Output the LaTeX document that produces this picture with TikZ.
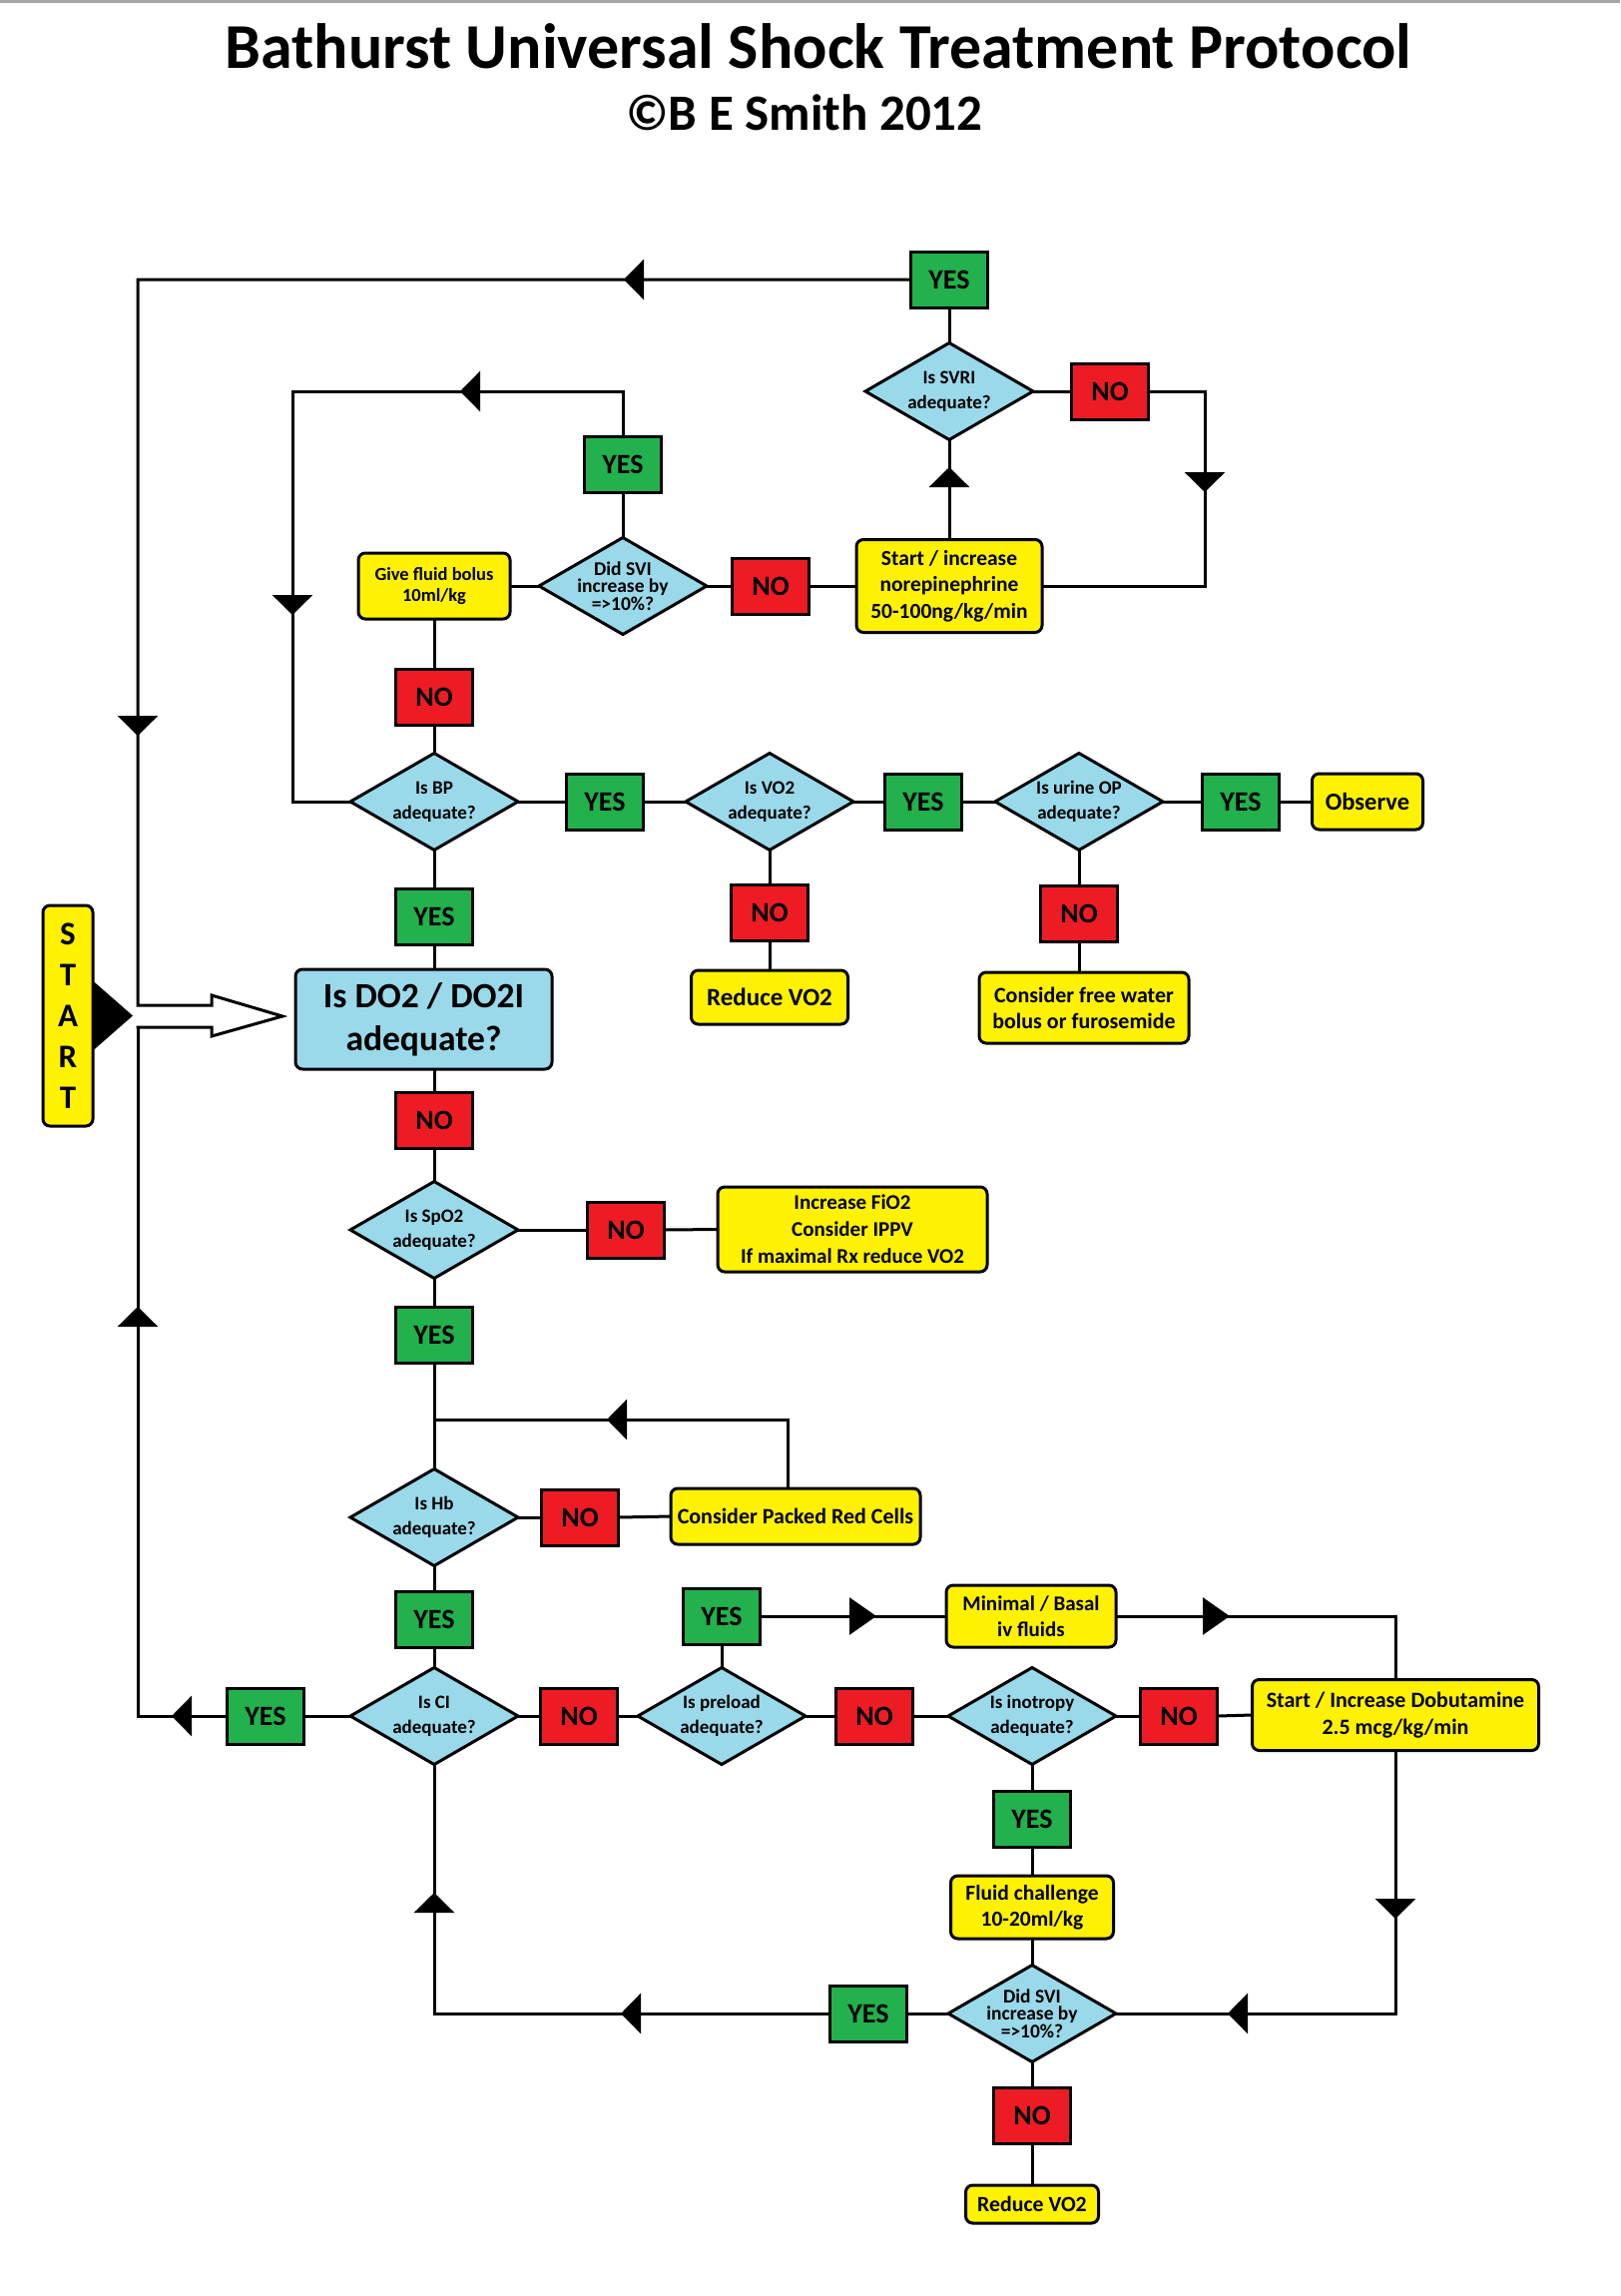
\documentclass[tikz,border=0pt]{standalone}
\usepackage{fontspec}
\setmainfont{Carlito}
\usetikzlibrary{shapes.geometric,arrows.meta,decorations.markings,calc}
\newcommand{\myfs}[2]{\fontsize{#1}{#2}\selectfont}
\definecolor{cgreen}{RGB}{34,177,76}
\definecolor{cred}{RGB}{237,28,36}
\definecolor{cyellow}{RGB}{255,242,0}
\definecolor{cblue}{RGB}{153,217,234}
\pgfdeclarelayer{bg}
\pgfsetlayers{bg,main}
\begin{document}
\begin{tikzpicture}[x=1pt,y=-1pt,
  base/.style={draw=black, line width=3pt, text=black, outer sep=0pt, inner sep=0pt},
  yesbox/.style={base, fill=cgreen, minimum width=77pt, minimum height=56pt, font=\bfseries\myfs{28}{34}},
  nobox/.style={base, fill=cred, minimum width=77pt, minimum height=56pt, font=\bfseries\myfs{28}{34}},
  dia/.style={base, diamond, shape aspect=1.73, fill=cblue, minimum width=168pt, minimum height=97pt, inner sep=-5pt, align=center, font=\bfseries\myfs{19}{25}},
  svi/.style={dia, font=\bfseries\myfs{19.5}{17.5}},
  act/.style={base, fill=cyellow, rounded corners=7pt, align=center},
  conn/.style={line width=3pt, draw=black},
  tipS/.style={postaction={decorate,decoration={markings,mark=at position #1 with {\arrow{Triangle[length=20pt,width=40pt]}}}}},
  tipL/.style={postaction={decorate,decoration={markings,mark=at position #1 with {\arrow{Triangle[length=27pt,width=37pt]}}}}}
]
\useasboundingbox (0,0) rectangle (1623,2300);

% title
\node[font=\bfseries\myfs{64}{72}, anchor=base, inner sep=0pt] (title) at (820,68) {Bathurst Universal Shock Treatment Protocol};
\node[font=\bfseries\myfs{51}{58}, anchor=base, inner sep=0pt] (sub) at (806,130) {©B E Smith 2012};

% top part
\node[yesbox] (ySVRI) at (951,280) {YES};
\node[dia] (dSVRI) at (951,392) {Is SVRI\\adequate?};
\node[nobox] (nSVRI) at (1112,392) {NO};
\node[act, minimum width=186pt, minimum height=93pt, font=\bfseries\myfs{21.5}{26.7}] (nore) at (951,587) {Start / increase\\norepinephrine\\50-100ng/kg/min};
\node[nobox] (nSVI1) at (772,587) {NO};
\node[svi] (dSVI1) at (624,587) {Did SVI\\increase by\\=>10\%?};
\node[yesbox] (ySVI1) at (624,465) {YES};
\node[act, minimum width=152pt, minimum height=66pt, font=\bfseries\myfs{18.5}{21}] (give) at (435,587) {Give fluid bolus\\10ml/kg};
\node[nobox] (nBP) at (435,698) {NO};

% BP row
\node[dia] (dBP) at (435,803) {Is BP\\adequate?};
\node[yesbox] (yBP) at (606,803) {YES};
\node[dia] (dVO2) at (771,803) {Is VO2\\adequate?};
\node[yesbox] (yVO2) at (925,803) {YES};
\node[dia] (dUR) at (1081,803) {Is urine OP\\adequate?};
\node[yesbox] (yUR) at (1243,803) {YES};
\node[act, minimum width=111pt, minimum height=56pt, font=\bfseries\myfs{24.5}{30}] (obs) at (1370,803) {Observe};
\node[nobox] (nVO2) at (771,914) {NO};
\node[act, minimum width=157pt, minimum height=54pt, font=\bfseries\myfs{25}{30}] (red1) at (771,999) {Reduce VO2};
\node[nobox] (nUR) at (1081,915) {NO};
\node[act, minimum width=210pt, minimum height=71pt, font=\bfseries\myfs{22}{26}] (water) at (1086,1009.5) {Consider free water\\bolus or furosemide};

% DO2
\node[yesbox] (yDO2) at (435,918) {YES};
\node[base, fill=cblue, rounded corners=7pt, align=center, minimum width=257pt, minimum height=100pt, font=\bfseries\myfs{35.5}{43}] (do2) at (424.5,1021) {Is DO2 / DO2I\\adequate?};
\node[act, minimum width=50pt, minimum height=221pt, font=\bfseries\myfs{33}{41}] (start) at (68,1017.5) {S\\T\\A\\R\\T};
\node[nobox] (nDO2) at (435,1122) {NO};

% SpO2 / Hb
\node[dia] (dSPO2) at (435,1232) {Is SpO2\\adequate?};
\node[nobox] (nSPO2) at (627,1232) {NO};
\node[act, minimum width=270pt, minimum height=85pt, font=\bfseries\myfs{21}{27}] (fio2) at (854,1231.5) {Increase FiO2\\Consider IPPV\\If maximal Rx reduce VO2};
\node[yesbox] (ySPO2) at (435,1337) {YES};
\node[dia] (dHB) at (435,1520) {Is Hb\\adequate?};
\node[nobox] (nHB) at (581,1520) {NO};
\node[act, minimum width=250pt, minimum height=56pt, font=\bfseries\myfs{22}{26}] (packed) at (797,1519) {Consider Packed Red Cells};
\node[yesbox] (yHB) at (435,1622) {YES};

% CI row
\node[dia] (dCI) at (435,1719) {Is CI\\adequate?};
\node[yesbox] (yCI) at (266,1719) {YES};
\node[nobox] (nCI) at (580,1719) {NO};
\node[dia] (dPRE) at (723,1719) {Is preload\\adequate?};
\node[yesbox] (yPRE) at (723,1619) {YES};
\node[act, minimum width=170pt, minimum height=62pt, font=\bfseries\myfs{21}{26}] (minimal) at (1033,1619) {Minimal / Basal\\iv fluids};
\node[nobox] (nPRE) at (876,1719) {NO};
\node[dia] (dINO) at (1034,1719) {Is inotropy\\adequate?};
\node[nobox] (nINO) at (1181,1719) {NO};
\node[act, minimum width=287pt, minimum height=71pt, font=\bfseries\myfs{22}{27}] (dobu) at (1398,1718) {Start / Increase Dobutamine\\2.5 mcg/kg/min};
\node[yesbox] (yINO) at (1034,1822) {YES};
\node[act, minimum width=163pt, minimum height=63pt, font=\bfseries\myfs{21.5}{26}] (fluid) at (1034,1910.5) {Fluid challenge\\10-20ml/kg};
\node[svi] (dSVI2) at (1034,2017) {Did SVI\\increase by\\=>10\%?};
\node[yesbox] (ySVI2) at (870,2017) {YES};
\node[nobox] (nSVI2) at (1034,2119) {NO};
\node[act, minimum width=133pt, minimum height=38pt, font=\bfseries\myfs{21.8}{26}] (red2) at (1034,2208) {Reduce VO2};

% START pointer
\fill[black] ($(start.east)+(0,-35)$) -- ($(start.east)+(40,0)$) -- ($(start.east)+(0,35)$) -- cycle;

\begin{pgfonlayer}{bg}
\fill[white] (0,0) rectangle (1623,2300);
\fill[gray!70] (0,0) rectangle (1623,3);
% loops with arrowheads
\draw[conn, line cap=rect, tipS=287.5pt, tipS=1231.5pt] (ySVRI.west) -- (138,280) -- (138,1007) -- (212,1007) -- (212,997) -- (283,1018) -- (212,1038) -- (212,1029) -- (138,1029);
\draw[conn, line cap=rect, tipS=55.5pt, tipS=499.5pt] (yCI.west) -- (138,1719) -- (138,1029);
\draw[conn, tipS=208pt, tipS=600pt] (ySVI1.north) -- (624,392) -- (293,392) -- (293,803) -- (dBP.west);
\draw[conn, tipS=157.5pt] (nSVRI.east) -- (1207,392) -- (1207,587) -- (nore.east);
\draw[conn, tipS=72.5pt] (nore.north) -- (dSVRI.south);
\coordinate (pk) at (789,1491);
\draw[conn, tipS=250pt] (pk) -- (789,1422) -- (435,1422);
\draw[conn, tipS=209.5pt, tipS=517.5pt] (ySVI2.west) -- (435,2017) -- (dCI.south);
\draw[conn, tipS=168.5pt, tipS=431.5pt] (dobu.south) -- (1398,2017) -- (dSVI2.east);
\draw[conn, tipL=116.5pt] (yPRE.east) -- (minimal.west);
\draw[conn, tipL=114pt] (minimal.east) -- (1398,1619) -- (dobu.north);

% plain connectors
\draw[conn] (ySVRI.south) -- (dSVRI.north);
\draw[conn] (dSVRI.east) -- (nSVRI.west);
\draw[conn] (dSVI1.east) -- (nSVI1.west);
\draw[conn] (nSVI1.east) -- (nore.west);
\draw[conn] (ySVI1.south) -- (dSVI1.north);
\draw[conn] (give.east) -- (dSVI1.west);
\draw[conn] (give.south) -- (nBP.north);
\draw[conn] (nBP.south) -- (dBP.north);
\draw[conn] (dBP.east) -- (yBP.west);
\draw[conn] (yBP.east) -- (dVO2.west);
\draw[conn] (dVO2.east) -- (yVO2.west);
\draw[conn] (yVO2.east) -- (dUR.west);
\draw[conn] (dUR.east) -- (yUR.west);
\draw[conn] (yUR.east) -- (obs.west);
\draw[conn] (dBP.south) -- (yDO2.north);
\draw[conn] (yDO2.south) -- (yDO2.south |- do2.north);
\draw[conn] (dVO2.south) -- (nVO2.north);
\draw[conn] (nVO2.south) -- (red1.north);
\draw[conn] (dUR.south) -- (nUR.north);
\draw[conn] (nUR.south) -- (nUR.south |- water.north);
\draw[conn] (nDO2.north |- do2.south) -- (nDO2.north);
\draw[conn] (nDO2.south) -- (dSPO2.north);
\draw[conn] (dSPO2.east) -- (nSPO2.west);
\draw[conn] (nSPO2.east) -- (fio2.west);
\draw[conn] (dSPO2.south) -- (ySPO2.north);
\draw[conn] (ySPO2.south) -- (dHB.north);
\draw[conn] (dHB.east) -- (nHB.west);
\draw[conn] (nHB.east) -- (packed.west);
\draw[conn] (dHB.south) -- (yHB.north);
\draw[conn] (yHB.south) -- (dCI.north);
\draw[conn] (dCI.west) -- (yCI.east);
\draw[conn] (dCI.east) -- (nCI.west);
\draw[conn] (nCI.east) -- (dPRE.west);
\draw[conn] (dPRE.north) -- (yPRE.south);
\draw[conn] (dPRE.east) -- (nPRE.west);
\draw[conn] (nPRE.east) -- (dINO.west);
\draw[conn] (dINO.east) -- (nINO.west);
\draw[conn] (nINO.east) -- (dobu.west);
\draw[conn] (dINO.south) -- (yINO.north);
\draw[conn] (yINO.south) -- (fluid.north);
\draw[conn] (fluid.south) -- (dSVI2.north);
\draw[conn] (dSVI2.west) -- (ySVI2.east);
\draw[conn] (dSVI2.south) -- (nSVI2.north);
\draw[conn] (nSVI2.south) -- (red2.north);
\end{pgfonlayer}
\end{tikzpicture}
\end{document}
